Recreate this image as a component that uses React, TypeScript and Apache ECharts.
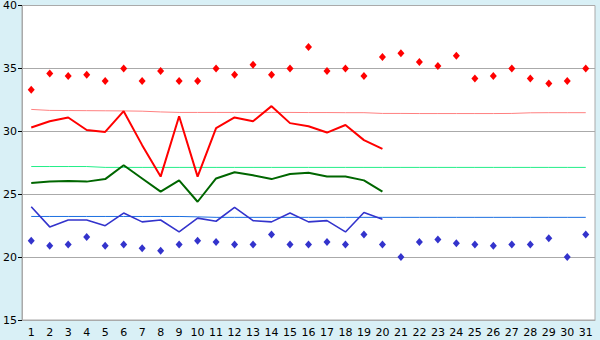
import React, { useEffect, useRef } from "react";
import * as echarts from "echarts";

const days = Array.from({ length: 31 }, (_, i) => String(i + 1));

const maxPoints = [33.3, 34.6, 34.4, 34.5, 34.0, 35.0, 34.0, 34.8, 34.0, 34.0, 35.0, 34.5, 35.3, 34.5, 35.0, 36.7, 34.8, 35.0, 34.4, 35.9, 36.2, 35.5, 35.2, 36.0, 34.2, 34.4, 35.0, 34.2, 33.8, 34.0, 35.0];
const minPoints = [21.3, 20.9, 21.0, 21.6, 20.9, 21.0, 20.7, 20.5, 21.0, 21.3, 21.2, 21.0, 21.0, 21.8, 21.0, 21.0, 21.2, 21.0, 21.8, 21.0, 20.0, 21.2, 21.4, 21.1, 21.0, 20.9, 21.0, 21.0, 21.5, 20.0, 21.8];

const maxLine = [30.3, 30.8, 31.1, 30.1, 29.95, 31.6, 28.9, 26.4, 31.2, 26.4, 30.25, 31.1, 30.8, 32.0, 30.65, 30.4, 29.9, 30.5, 29.3, 28.6];
const meanLine = [25.9, 26.0, 26.05, 26.0, 26.2, 27.3, 26.25, 25.2, 26.1, 24.4, 26.25, 26.75, 26.5, 26.2, 26.6, 26.7, 26.4, 26.4, 26.1, 25.2];
const minLine = [24.0, 22.4, 22.95, 22.95, 22.5, 23.5, 22.8, 22.95, 22.0, 23.1, 22.85, 23.95, 22.9, 22.8, 23.5, 22.8, 22.9, 22.0, 23.55, 23.0];

const maxNormal = [31.74, 31.66, 31.65, 31.64, 31.63, 31.62, 31.6, 31.54, 31.5, 31.5, 31.5, 31.5, 31.5, 31.5, 31.5, 31.49, 31.49, 31.48, 31.48, 31.42, 31.42, 31.41, 31.41, 31.41, 31.41, 31.41, 31.42, 31.47, 31.48, 31.48, 31.48];
const meanNormal = [27.2, 27.2, 27.2, 27.2, 27.13, 27.13, 27.13, 27.13, 27.13, 27.13, 27.13, 27.13, 27.13, 27.13, 27.13, 27.13, 27.13, 27.13, 27.13, 27.13, 27.13, 27.13, 27.13, 27.13, 27.13, 27.13, 27.13, 27.13, 27.13, 27.13, 27.13];
const minNormal = [23.23, 23.23, 23.23, 23.23, 23.23, 23.23, 23.23, 23.23, 23.23, 23.2, 23.16, 23.16, 23.16, 23.16, 23.16, 23.16, 23.16, 23.16, 23.16, 23.16, 23.16, 23.16, 23.16, 23.16, 23.16, 23.16, 23.16, 23.16, 23.16, 23.16, 23.16];

const yTicks = { min: 15, max: 40, interval: 5 };

export default function App() {
  const ref = useRef<HTMLDivElement>(null);
  useEffect(() => {
    if (!ref.current) return;
    const chart = echarts.init(ref.current, null, { renderer: "svg" });
    const font = "DejaVu Sans";
    const thin = (name: string, data: number[], color: string) => ({
      name,
      type: "line",
      data,
      symbol: "none",
      lineStyle: { color, width: 1 },
      z: 1,
    });
    const thick = (name: string, data: number[], color: string, width: number) => ({
      name,
      type: "line",
      data,
      symbol: "none",
      lineStyle: { color, width },
      z: 3,
    });
    const pts = (name: string, data: number[], color: string) => ({
      name,
      type: "scatter",
      data,
      symbol: "diamond",
      symbolSize: [7, 8],
      itemStyle: { color, opacity: 1 },
      z: 4,
    });
    chart.setOption({
      animation: false,
      backgroundColor: "#d9f0f6",
      textStyle: { fontFamily: font },
      grid: {
        left: 20,
        right: 5,
        top: 5,
        bottom: 20,
        show: true,
        backgroundColor: "#ffffff",
        borderColor: "#aaaaaa",
        borderWidth: 1,
      },
      xAxis: {
        type: "category",
        data: days,
        boundaryGap: true,
        axisLine: { lineStyle: { color: "#aaaaaa", width: 1 } },
        axisTick: { alignWithLabel: true, length: 5, lineStyle: { color: "#000000" } },
        axisLabel: { interval: 0, color: "#000000", fontSize: 11, fontFamily: font, margin: 7 },
        splitLine: { show: false },
      },
      yAxis: {
        type: "value",
        min: yTicks.min,
        max: yTicks.max,
        interval: yTicks.interval,
        axisLine: { show: true, lineStyle: { color: "#aaaaaa", width: 1 } },
        axisTick: { show: true, length: 4, lineStyle: { color: "#000000" } },
        axisLabel: { color: "#000000", fontSize: 11, fontFamily: font, margin: 5 },
        splitLine: { show: true, lineStyle: { color: "#aaaaaa", width: 1 } },
      },
      series: [
        thin("maxNormal", maxNormal, "#ff8080"),
        thin("meanNormal", meanNormal, "#22ee88"),
        thin("minNormal", minNormal, "#1a6ee0"),
        thick("max", maxLine, "#ff0000", 2),
        thick("mean", meanLine, "#006600", 2),
        thick("min", minLine, "#3333cc", 1.6),
        pts("maxPts", maxPoints, "#ff0000"),
        pts("minPts", minPoints, "#3333cc"),
      ],
    });
    return () => chart.dispose();
  }, []);
  return <div ref={ref} style={{ width: 600, height: 340, position: "absolute", left: 0, top: 0 }} />;
}
